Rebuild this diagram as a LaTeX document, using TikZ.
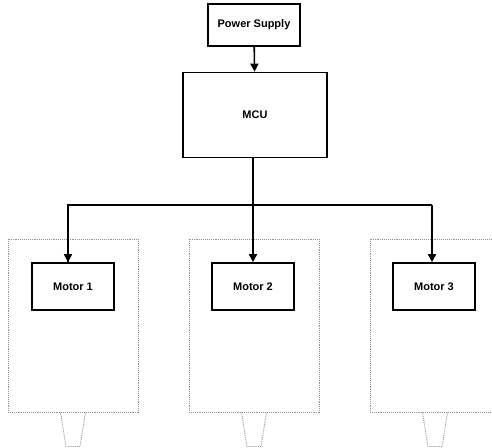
\documentclass[tikz,border=0pt]{standalone}
\usepackage{fontspec}
\setmainfont{Liberation Sans}
\usetikzlibrary{arrows.meta}

\begin{document}
\begin{tikzpicture}[x=1pt,y=-1pt,>={Triangle[length=8pt,width=8pt]},
  font=\fontsize{11}{13}\selectfont\bfseries,
  block/.style={draw,line width=1.6pt,minimum width=#1},
  link/.style={line width=1.6pt},
  housing/.style={draw=gray!85,densely dotted,line width=0.9pt,minimum width=130pt,minimum height=173pt}]
\clip (0,0) rectangle (492,447);
% outer housings
\foreach \n/\x in {1/73,2/254,3/435}{
  \node[housing] (h\n) at (\x,325.5) {};
  \draw[gray!85,densely dotted,line width=0.9pt] ([xshift=-12.5pt]h\n.south) -- ++(5.5pt,-34pt)
    -- ++(14pt,0) -- ([xshift=12.5pt]h\n.south);
}
% blocks
\node[block=92pt,minimum height=42pt] (ps) at (254,25) {Power Supply};
\node[block=144pt,minimum height=85pt] (mcu) at (255,115) {MCU};
\node[block=82pt,minimum height=47pt] (m1) at (73,286.5) {Motor 1};
\node[block=82pt,minimum height=47pt] (m2) at (253,286.5) {Motor 2};
\node[block=82pt,minimum height=47pt] (m3) at (434,286.5) {Motor 3};
% connectors
\coordinate (bus) at (253,205);
\coordinate (busl) at (68,205);
\coordinate (busr) at (432,205);
\draw[link,->] (ps) -- (mcu);
\draw[link] (mcu.south -| bus) -- (bus);
\draw[link,line join=miter] (busl |- m1.north) ++(0,-0.5pt) -- (busl) -- (busr);
\draw[link,->] (busl) -- (busl |- m1.north);
\draw[link,->] (bus) -- (m2);
\draw[link,->] (busr) -- (busr |- m3.north);
\end{tikzpicture}
\end{document}
